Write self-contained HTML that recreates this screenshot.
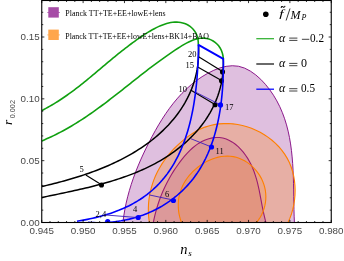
<!DOCTYPE html>
<html><head><meta charset="utf-8"><style>
html,body{margin:0;padding:0;background:#fff;}
body{width:344px;height:261px;overflow:hidden;position:relative;}
text{font-family:"Liberation Serif",serif;fill:#000;}
.tk{font-family:"Liberation Sans",sans-serif;font-size:9.8px;fill:#484848;}
.an{font-size:8.5px;}
.lg{font-size:7.2px;}
.lm{font-size:12px;}
.ax{font-size:14.5px;}
</style></head><body>
<svg width="344" height="261" viewBox="0 0 344 261" style="position:absolute;left:0;top:0;will-change:transform">
<defs><clipPath id="cp"><rect x="41.75" y="0.50" width="289.50" height="222.00"/></clipPath></defs>
<g clip-path="url(#cp)">
<path d="M122.90,222.60 L123.75,216.03 L124.84,209.55 L126.14,203.13 L127.66,196.78 L129.38,190.50 L131.29,184.28 L133.38,178.12 L135.63,172.01 L138.05,165.96 L140.62,159.95 L143.32,153.99 L146.15,148.07 L149.10,142.19 L152.16,136.35 L155.34,130.55 L158.64,124.83 L162.09,119.20 L165.70,113.70 L169.48,108.33 L173.45,103.13 L177.63,98.12 L182.02,93.31 L186.65,88.75 L191.53,84.43 L196.67,80.40 L202.08,76.67 L207.79,73.27 L213.76,70.29 L219.91,67.92 L226.14,66.34 L232.39,65.72 L238.55,66.26 L244.55,68.09 L250.31,71.06 L255.75,74.91 L260.80,79.39 L265.45,84.35 L269.68,89.66 L273.47,95.19 L276.84,100.88 L279.80,106.71 L282.38,112.66 L284.61,118.72 L286.52,124.89 L288.13,131.15 L289.47,137.49 L290.57,143.91 L291.45,150.39 L292.14,156.91 L292.66,163.48 L293.05,170.08 L293.33,176.69 L293.52,183.31 L293.66,189.93 L293.76,196.54 L293.86,203.12 L293.98,209.66 L294.15,216.16 L294.40,222.60Z" fill="#800080" fill-opacity="0.25" stroke="none"/>
<path d="M153.30,222.60 L154.07,218.88 L154.92,215.22 L155.85,211.59 L156.86,208.02 L157.94,204.49 L159.11,201.00 L160.36,197.56 L161.70,194.15 L163.12,190.79 L164.62,187.47 L166.21,184.18 L167.88,180.94 L169.65,177.73 L171.50,174.55 L173.44,171.41 L175.48,168.31 L177.60,165.24 L179.82,162.19 L182.13,159.18 L184.54,156.22 L187.06,153.34 L189.70,150.58 L192.49,147.98 L195.42,145.58 L198.52,143.42 L201.79,141.52 L205.22,139.94 L208.76,138.71 L212.35,137.86 L215.93,137.45 L219.45,137.51 L222.88,138.04 L226.20,139.02 L229.39,140.41 L232.46,142.17 L235.39,144.26 L238.18,146.65 L240.81,149.29 L243.27,152.16 L245.56,155.21 L247.67,158.41 L249.59,161.72 L251.31,165.10 L252.84,168.53 L254.20,172.02 L255.41,175.55 L256.49,179.11 L257.45,182.71 L258.31,186.33 L259.11,189.97 L259.84,193.63 L260.54,197.29 L261.22,200.95 L261.90,204.61 L262.60,208.25 L263.35,211.88 L264.15,215.48 L265.03,219.06 L266.00,222.60Z" fill="#800080" fill-opacity="0.155" stroke="none"/>
<path d="M149.40,222.60 L148.76,217.71 L148.41,212.86 L148.35,208.05 L148.57,203.28 L149.07,198.56 L149.84,193.91 L150.86,189.33 L152.15,184.82 L153.68,180.39 L155.45,176.05 L157.45,171.80 L159.68,167.66 L162.13,163.63 L164.80,159.71 L167.66,155.92 L170.73,152.26 L173.98,148.74 L177.41,145.36 L180.99,142.13 L184.69,139.06 L188.50,136.15 L192.41,133.45 L196.46,131.00 L200.65,128.87 L205.01,127.10 L209.51,125.69 L214.11,124.63 L218.80,123.93 L223.53,123.58 L228.28,123.56 L233.02,123.89 L237.73,124.53 L242.40,125.49 L247.00,126.75 L251.52,128.31 L255.92,130.16 L260.19,132.28 L264.31,134.68 L268.25,137.33 L272.00,140.23 L275.53,143.37 L278.83,146.74 L281.88,150.33 L284.64,154.14 L287.10,158.14 L289.25,162.35 L291.05,166.73 L292.52,171.27 L293.65,175.93 L294.45,180.69 L294.94,185.52 L295.11,190.37 L294.97,195.23 L294.52,200.05 L293.79,204.81 L292.76,209.48 L291.45,214.02 L289.86,218.40 L288.00,222.60Z" fill="#ff8000" fill-opacity="0.26" stroke="none"/>
<path d="M181.50,222.60 L180.43,219.53 L179.58,216.44 L178.93,213.34 L178.50,210.24 L178.27,207.15 L178.25,204.07 L178.43,201.02 L178.82,197.99 L179.41,195.00 L180.21,192.05 L181.20,189.15 L182.39,186.31 L183.78,183.54 L185.37,180.84 L187.14,178.23 L189.09,175.70 L191.20,173.28 L193.46,170.98 L195.86,168.80 L198.38,166.75 L201.00,164.85 L203.73,163.11 L206.53,161.54 L209.41,160.14 L212.34,158.93 L215.32,157.92 L218.32,157.13 L221.34,156.55 L224.37,156.20 L227.38,156.09 L230.38,156.24 L233.33,156.64 L236.24,157.31 L239.08,158.24 L241.85,159.40 L244.53,160.78 L247.11,162.38 L249.58,164.17 L251.92,166.15 L254.13,168.31 L256.18,170.62 L258.07,173.07 L259.79,175.66 L261.32,178.37 L262.65,181.18 L263.76,184.08 L264.65,187.07 L265.29,190.12 L265.70,193.21 L265.85,196.35 L265.76,199.49 L265.42,202.62 L264.84,205.72 L264.01,208.78 L262.94,211.76 L261.64,214.66 L260.10,217.44 L258.31,220.10 L256.30,222.60Z" fill="#ff8000" fill-opacity="0.17" stroke="none"/>
<path d="M122.90,222.60 L123.75,216.03 L124.84,209.55 L126.14,203.13 L127.66,196.78 L129.38,190.50 L131.29,184.28 L133.38,178.12 L135.63,172.01 L138.05,165.96 L140.62,159.95 L143.32,153.99 L146.15,148.07 L149.10,142.19 L152.16,136.35 L155.34,130.55 L158.64,124.83 L162.09,119.20 L165.70,113.70 L169.48,108.33 L173.45,103.13 L177.63,98.12 L182.02,93.31 L186.65,88.75 L191.53,84.43 L196.67,80.40 L202.08,76.67 L207.79,73.27 L213.76,70.29 L219.91,67.92 L226.14,66.34 L232.39,65.72 L238.55,66.26 L244.55,68.09 L250.31,71.06 L255.75,74.91 L260.80,79.39 L265.45,84.35 L269.68,89.66 L273.47,95.19 L276.84,100.88 L279.80,106.71 L282.38,112.66 L284.61,118.72 L286.52,124.89 L288.13,131.15 L289.47,137.49 L290.57,143.91 L291.45,150.39 L292.14,156.91 L292.66,163.48 L293.05,170.08 L293.33,176.69 L293.52,183.31 L293.66,189.93 L293.76,196.54 L293.86,203.12 L293.98,209.66 L294.15,216.16 L294.40,222.60" fill="none" stroke="#800080" stroke-width="0.9"/>
<path d="M153.30,222.60 L154.07,218.88 L154.92,215.22 L155.85,211.59 L156.86,208.02 L157.94,204.49 L159.11,201.00 L160.36,197.56 L161.70,194.15 L163.12,190.79 L164.62,187.47 L166.21,184.18 L167.88,180.94 L169.65,177.73 L171.50,174.55 L173.44,171.41 L175.48,168.31 L177.60,165.24 L179.82,162.19 L182.13,159.18 L184.54,156.22 L187.06,153.34 L189.70,150.58 L192.49,147.98 L195.42,145.58 L198.52,143.42 L201.79,141.52 L205.22,139.94 L208.76,138.71 L212.35,137.86 L215.93,137.45 L219.45,137.51 L222.88,138.04 L226.20,139.02 L229.39,140.41 L232.46,142.17 L235.39,144.26 L238.18,146.65 L240.81,149.29 L243.27,152.16 L245.56,155.21 L247.67,158.41 L249.59,161.72 L251.31,165.10 L252.84,168.53 L254.20,172.02 L255.41,175.55 L256.49,179.11 L257.45,182.71 L258.31,186.33 L259.11,189.97 L259.84,193.63 L260.54,197.29 L261.22,200.95 L261.90,204.61 L262.60,208.25 L263.35,211.88 L264.15,215.48 L265.03,219.06 L266.00,222.60" fill="none" stroke="#9a1c72" stroke-width="1.1"/>
<path d="M149.40,222.60 L148.76,217.71 L148.41,212.86 L148.35,208.05 L148.57,203.28 L149.07,198.56 L149.84,193.91 L150.86,189.33 L152.15,184.82 L153.68,180.39 L155.45,176.05 L157.45,171.80 L159.68,167.66 L162.13,163.63 L164.80,159.71 L167.66,155.92 L170.73,152.26 L173.98,148.74 L177.41,145.36 L180.99,142.13 L184.69,139.06 L188.50,136.15 L192.41,133.45 L196.46,131.00 L200.65,128.87 L205.01,127.10 L209.51,125.69 L214.11,124.63 L218.80,123.93 L223.53,123.58 L228.28,123.56 L233.02,123.89 L237.73,124.53 L242.40,125.49 L247.00,126.75 L251.52,128.31 L255.92,130.16 L260.19,132.28 L264.31,134.68 L268.25,137.33 L272.00,140.23 L275.53,143.37 L278.83,146.74 L281.88,150.33 L284.64,154.14 L287.10,158.14 L289.25,162.35 L291.05,166.73 L292.52,171.27 L293.65,175.93 L294.45,180.69 L294.94,185.52 L295.11,190.37 L294.97,195.23 L294.52,200.05 L293.79,204.81 L292.76,209.48 L291.45,214.02 L289.86,218.40 L288.00,222.60" fill="none" stroke="#ff8000" stroke-width="1.12"/>
<path d="M181.50,222.60 L180.43,219.53 L179.58,216.44 L178.93,213.34 L178.50,210.24 L178.27,207.15 L178.25,204.07 L178.43,201.02 L178.82,197.99 L179.41,195.00 L180.21,192.05 L181.20,189.15 L182.39,186.31 L183.78,183.54 L185.37,180.84 L187.14,178.23 L189.09,175.70 L191.20,173.28 L193.46,170.98 L195.86,168.80 L198.38,166.75 L201.00,164.85 L203.73,163.11 L206.53,161.54 L209.41,160.14 L212.34,158.93 L215.32,157.92 L218.32,157.13 L221.34,156.55 L224.37,156.20 L227.38,156.09 L230.38,156.24 L233.33,156.64 L236.24,157.31 L239.08,158.24 L241.85,159.40 L244.53,160.78 L247.11,162.38 L249.58,164.17 L251.92,166.15 L254.13,168.31 L256.18,170.62 L258.07,173.07 L259.79,175.66 L261.32,178.37 L262.65,181.18 L263.76,184.08 L264.65,187.07 L265.29,190.12 L265.70,193.21 L265.85,196.35 L265.76,199.49 L265.42,202.62 L264.84,205.72 L264.01,208.78 L262.94,211.76 L261.64,214.66 L260.10,217.44 L258.31,220.10 L256.30,222.60" fill="none" stroke="#ff8000" stroke-width="1.12"/>
<path d="M41.80,110.60 L43.87,109.52 L45.92,108.42 L47.94,107.31 L49.94,106.17 L51.92,105.02 L53.87,103.85 L55.80,102.67 L57.71,101.46 L59.60,100.25 L61.48,99.02 L63.33,97.77 L65.17,96.51 L66.99,95.24 L68.80,93.95 L70.59,92.66 L72.37,91.35 L74.14,90.03 L75.89,88.70 L77.63,87.36 L79.37,86.01 L81.09,84.65 L82.81,83.29 L84.51,81.91 L86.21,80.53 L87.91,79.15 L89.60,77.75 L91.29,76.36 L92.97,74.95 L94.65,73.55 L96.33,72.14 L98.01,70.72 L99.69,69.31 L101.37,67.89 L103.05,66.47 L104.73,65.05 L106.42,63.63 L108.11,62.21 L109.81,60.79 L111.52,59.37 L113.23,57.95 L114.95,56.54 L116.67,55.13 L118.41,53.72 L120.16,52.32 L121.92,50.92 L123.69,49.52 L125.48,48.14 L127.28,46.76 L129.09,45.38 L130.93,44.01 L132.77,42.65 L134.64,41.30 L136.52,39.96 L138.42,38.63 L140.34,37.31 L142.29,36.00 L144.25,34.70 L146.23,33.42 L148.24,32.17 L150.25,30.96 L152.28,29.79 L154.32,28.68 L156.36,27.62 L158.41,26.64 L160.47,25.72 L162.53,24.90 L164.58,24.16 L166.64,23.52 L168.69,22.99 L170.73,22.58 L172.77,22.29 L174.79,22.13 L176.80,22.11 L178.79,22.23 L180.77,22.51 L182.72,22.95 L184.65,23.57 L186.53,24.35 L188.34,25.30 L190.06,26.43 L191.67,27.74 L193.16,29.22 L194.50,30.89 L195.67,32.74 L196.65,34.77 L197.42,36.99 L197.97,39.40 L198.27,42.01 L198.30,44.80" fill="none" stroke="#10a010" stroke-width="1.6"/>
<path d="M41.80,140.90 L44.21,139.89 L46.61,138.85 L48.98,137.79 L51.32,136.71 L53.65,135.60 L55.95,134.47 L58.24,133.32 L60.50,132.14 L62.74,130.95 L64.97,129.73 L67.18,128.49 L69.37,127.24 L71.54,125.96 L73.70,124.67 L75.84,123.36 L77.97,122.04 L80.09,120.69 L82.19,119.34 L84.28,117.96 L86.35,116.57 L88.42,115.17 L90.47,113.76 L92.51,112.33 L94.55,110.89 L96.57,109.44 L98.59,107.97 L100.60,106.50 L102.60,105.01 L104.59,103.52 L106.58,102.02 L108.57,100.51 L110.55,98.99 L112.52,97.47 L114.50,95.94 L116.47,94.40 L118.44,92.86 L120.40,91.31 L122.37,89.76 L124.34,88.21 L126.30,86.65 L128.27,85.09 L130.24,83.53 L132.22,81.96 L134.19,80.40 L136.17,78.84 L138.16,77.28 L140.15,75.71 L142.14,74.15 L144.14,72.60 L146.15,71.04 L148.17,69.49 L150.19,67.94 L152.23,66.40 L154.27,64.87 L156.32,63.33 L158.39,61.81 L160.46,60.29 L162.55,58.78 L164.65,57.28 L166.76,55.79 L168.89,54.30 L171.04,52.83 L173.19,51.37 L175.37,49.91 L177.56,48.47 L179.76,47.05 L181.99,45.67 L184.22,44.34 L186.46,43.09 L188.71,41.94 L190.96,40.90 L193.22,39.99 L195.47,39.24 L197.73,38.66 L199.98,38.27 L202.22,38.10 L204.45,38.15 L206.67,38.46 L208.88,39.03 L211.04,39.87 L213.13,40.97 L215.11,42.34 L216.96,43.96 L218.63,45.83 L220.10,47.95 L221.34,50.31 L222.30,52.91 L222.97,55.74 L223.30,58.80" fill="none" stroke="#10a010" stroke-width="1.6"/>
<path d="M41.80,186.50 L44.22,185.94 L46.66,185.37 L49.10,184.79 L51.55,184.19 L54.02,183.58 L56.49,182.95 L58.96,182.31 L61.44,181.65 L63.93,180.97 L66.42,180.28 L68.92,179.57 L71.41,178.84 L73.91,178.09 L76.41,177.32 L78.91,176.54 L81.40,175.73 L83.90,174.91 L86.39,174.06 L88.88,173.19 L91.37,172.31 L93.84,171.40 L96.32,170.47 L98.78,169.51 L101.24,168.54 L103.68,167.54 L106.12,166.51 L108.55,165.47 L110.96,164.39 L113.37,163.30 L115.75,162.18 L118.13,161.03 L120.49,159.86 L122.83,158.66 L125.16,157.43 L127.47,156.18 L129.75,154.89 L132.02,153.58 L134.27,152.25 L136.50,150.88 L138.71,149.48 L140.89,148.06 L143.05,146.60 L145.18,145.12 L147.29,143.60 L149.37,142.05 L151.42,140.47 L153.45,138.87 L155.44,137.23 L157.40,135.56 L159.33,133.86 L161.23,132.13 L163.09,130.37 L164.92,128.58 L166.71,126.76 L168.47,124.91 L170.18,123.03 L171.86,121.12 L173.50,119.18 L175.09,117.22 L176.64,115.22 L178.15,113.19 L179.62,111.14 L181.03,109.05 L182.41,106.94 L183.73,104.79 L185.01,102.62 L186.23,100.42 L187.41,98.19 L188.53,95.94 L189.60,93.65 L190.62,91.33 L191.58,88.99 L192.48,86.62 L193.33,84.22 L194.12,81.79 L194.85,79.34 L195.52,76.85 L196.13,74.34 L196.68,71.80 L197.16,69.23 L197.58,66.64 L197.94,64.02 L198.22,61.37 L198.44,58.69 L198.60,55.98 L198.68,53.25 L198.69,50.49 L198.63,47.71 L198.50,44.89" fill="none" stroke="#000" stroke-width="1.5"/>
<path d="M41.80,197.50 L44.48,196.94 L47.17,196.38 L49.88,195.81 L52.59,195.25 L55.31,194.69 L58.04,194.12 L60.78,193.55 L63.52,192.97 L66.27,192.39 L69.03,191.80 L71.79,191.20 L74.55,190.60 L77.32,189.98 L80.09,189.35 L82.85,188.71 L85.62,188.06 L88.39,187.40 L91.16,186.72 L93.93,186.02 L96.69,185.31 L99.45,184.58 L102.20,183.84 L104.95,183.07 L107.69,182.28 L110.43,181.48 L113.16,180.65 L115.88,179.79 L118.59,178.91 L121.29,178.01 L123.98,177.08 L126.66,176.13 L129.32,175.14 L131.97,174.13 L134.61,173.09 L137.23,172.01 L139.84,170.91 L142.43,169.77 L145.01,168.60 L147.56,167.39 L150.10,166.15 L152.61,164.87 L155.11,163.55 L157.59,162.20 L160.04,160.80 L162.47,159.37 L164.88,157.89 L167.26,156.38 L169.61,154.82 L171.93,153.22 L174.22,151.59 L176.48,149.91 L178.71,148.20 L180.90,146.44 L183.05,144.65 L185.17,142.81 L187.25,140.94 L189.28,139.02 L191.27,137.07 L193.22,135.08 L195.12,133.05 L196.97,130.98 L198.77,128.88 L200.52,126.73 L202.22,124.55 L203.86,122.32 L205.45,120.06 L206.99,117.76 L208.46,115.43 L209.87,113.05 L211.22,110.64 L212.51,108.19 L213.73,105.71 L214.89,103.19 L215.97,100.64 L216.99,98.05 L217.94,95.43 L218.82,92.78 L219.63,90.10 L220.36,87.39 L221.02,84.64 L221.60,81.88 L222.10,79.08 L222.52,76.25 L222.86,73.41 L223.12,70.53 L223.29,67.63 L223.38,64.71 L223.38,61.76 L223.30,58.80" fill="none" stroke="#000" stroke-width="1.5"/>
<path d="M198.6,56.7 L222.5,71.6" stroke="#000" stroke-width="1.15" fill="none"/>
<path d="M197.7,66.9 L221.5,80.6" stroke="#000" stroke-width="1.15" fill="none"/>
<path d="M191,90.2 L215,104.4" stroke="#000" stroke-width="1.15" fill="none"/>
<path d="M85.8,175.1 L101.5,184.8" stroke="#000" stroke-width="1.15" fill="none"/>
<circle cx="222.5" cy="71.9" r="2.55" fill="#000"/>
<circle cx="221.5" cy="80.8" r="2.55" fill="#000"/>
<circle cx="215.1" cy="104.7" r="2.55" fill="#000"/>
<circle cx="101.5" cy="185" r="2.55" fill="#000"/>
<path d="M77.00,221.20 L79.59,220.79 L82.19,220.34 L84.80,219.87 L87.42,219.36 L90.04,218.82 L92.67,218.24 L95.31,217.63 L97.94,216.98 L100.57,216.30 L103.19,215.57 L105.81,214.81 L108.41,214.00 L111.01,213.15 L113.59,212.26 L116.15,211.32 L118.70,210.34 L121.22,209.30 L123.72,208.22 L126.19,207.09 L128.64,205.91 L131.05,204.68 L133.44,203.40 L135.78,202.07 L138.09,200.68 L140.36,199.24 L142.59,197.75 L144.78,196.21 L146.92,194.61 L149.02,192.96 L151.06,191.26 L153.06,189.51 L155.01,187.71 L156.91,185.86 L158.76,183.97 L160.56,182.03 L162.30,180.05 L163.99,178.03 L165.63,175.96 L167.22,173.86 L168.75,171.72 L170.24,169.54 L171.67,167.33 L173.06,165.08 L174.40,162.80 L175.69,160.49 L176.93,158.14 L178.13,155.77 L179.29,153.37 L180.40,150.94 L181.47,148.48 L182.49,146.00 L183.48,143.49 L184.42,140.96 L185.33,138.42 L186.19,135.85 L187.02,133.26 L187.81,130.65 L188.57,128.03 L189.29,125.39 L189.97,122.73 L190.62,120.07 L191.24,117.39 L191.83,114.70 L192.38,112.00 L192.90,109.29 L193.40,106.58 L193.86,103.86 L194.30,101.13 L194.71,98.40 L195.10,95.67 L195.46,92.94 L195.79,90.21 L196.10,87.47 L196.39,84.75 L196.65,82.02 L196.90,79.30 L197.12,76.58 L197.32,73.88 L197.51,71.18 L197.67,68.49 L197.82,65.81 L197.96,63.14 L198.07,60.49 L198.18,57.85 L198.27,55.22 L198.34,52.61 L198.41,50.02 L198.46,47.45 L198.50,44.90" fill="none" stroke="#0000ff" stroke-width="1.6"/>
<path d="M88.00,222.30 L90.74,222.49 L93.49,222.62 L96.25,222.70 L99.02,222.72 L101.79,222.68 L104.56,222.59 L107.33,222.43 L110.10,222.22 L112.86,221.95 L115.63,221.63 L118.38,221.24 L121.13,220.80 L123.86,220.30 L126.58,219.74 L129.29,219.13 L131.99,218.45 L134.66,217.72 L137.32,216.93 L139.95,216.08 L142.56,215.18 L145.15,214.21 L147.71,213.19 L150.24,212.11 L152.74,210.97 L155.21,209.77 L157.64,208.52 L160.04,207.20 L162.41,205.84 L164.73,204.41 L167.02,202.93 L169.27,201.40 L171.48,199.82 L173.65,198.18 L175.77,196.49 L177.85,194.75 L179.89,192.97 L181.88,191.13 L183.82,189.25 L185.72,187.32 L187.56,185.35 L189.36,183.33 L191.10,181.27 L192.79,179.17 L194.43,177.02 L196.01,174.83 L197.54,172.61 L199.02,170.34 L200.44,168.04 L201.81,165.70 L203.12,163.33 L204.39,160.92 L205.61,158.49 L206.78,156.02 L207.90,153.53 L208.97,151.00 L210.00,148.45 L210.98,145.88 L211.91,143.28 L212.81,140.67 L213.66,138.03 L214.46,135.37 L215.23,132.69 L215.96,130.00 L216.64,127.30 L217.29,124.58 L217.90,121.84 L218.47,119.10 L219.00,116.35 L219.50,113.59 L219.97,110.82 L220.40,108.05 L220.80,105.27 L221.16,102.49 L221.50,99.71 L221.80,96.93 L222.07,94.15 L222.32,91.38 L222.53,88.61 L222.72,85.84 L222.89,83.08 L223.02,80.33 L223.13,77.59 L223.22,74.86 L223.29,72.15 L223.33,69.44 L223.35,66.76 L223.35,64.09 L223.33,61.43 L223.30,58.80" fill="none" stroke="#0000ff" stroke-width="1.6"/>
<path d="M198.5,44.9 L223.3,58.8" stroke="#0000ff" stroke-width="1.9" stroke-linecap="round" fill="none"/>
<path d="M195.7,92.2 L220.5,104.9" stroke="#3a1cc0" stroke-width="0.9" fill="none"/>
<path d="M190.8,138.7 L211.5,147" stroke="#3a1cc0" stroke-width="0.9" fill="none"/>
<path d="M149.2,194.9 L173.4,200.1" stroke="#3a1cc0" stroke-width="0.9" fill="none"/>
<path d="M104.5,214.9 L138.2,217.6" stroke="#3a1cc0" stroke-width="0.9" fill="none"/>
<circle cx="220.5" cy="104.9" r="2.6" fill="#0000ff"/>
<circle cx="211.5" cy="147" r="2.6" fill="#0000ff"/>
<circle cx="173.4" cy="200.5" r="2.6" fill="#0000ff"/>
<circle cx="138.2" cy="217.5" r="2.6" fill="#0000ff"/>
<circle cx="107.7" cy="221.6" r="2.6" fill="#0000ff"/>
</g>
<rect x="48.3" y="7.2" width="10.5" height="10.4" fill="#a64ca6"/>
<rect x="48.3" y="29.6" width="10.5" height="10.4" fill="#ffa64c"/>
<path d="M47.3,12.5H59.9" stroke="#a64ca6" stroke-width="0.8"/>
<path d="M47.3,34.9H59.9" stroke="#ffa64c" stroke-width="0.8"/>
<circle cx="265.8" cy="14.2" r="2.8" fill="#000"/>
<path d="M256.3,38.7H274" stroke="#2fb02f" stroke-width="1.25"/>
<path d="M256.3,64.0H274" stroke="#111" stroke-width="1.25"/>
<path d="M256.3,89.2H274" stroke="#0000ff" stroke-width="1.25"/>
<rect x="41.75" y="0.5" width="289.5" height="222.0" fill="none" stroke="#000" stroke-width="1.1"/>
<path d="M41.75,222.5v-2.6M41.75,0.5v2.6M50.02,222.5v-1.5M50.02,0.5v1.5M58.29,222.5v-1.5M58.29,0.5v1.5M66.56,222.5v-1.5M66.56,0.5v1.5M74.84,222.5v-1.5M74.84,0.5v1.5M83.11,222.5v-2.6M83.11,0.5v2.6M91.38,222.5v-1.5M91.38,0.5v1.5M99.65,222.5v-1.5M99.65,0.5v1.5M107.92,222.5v-1.5M107.92,0.5v1.5M116.19,222.5v-1.5M116.19,0.5v1.5M124.46,222.5v-2.6M124.46,0.5v2.6M132.74,222.5v-1.5M132.74,0.5v1.5M141.01,222.5v-1.5M141.01,0.5v1.5M149.28,222.5v-1.5M149.28,0.5v1.5M157.55,222.5v-1.5M157.55,0.5v1.5M165.82,222.5v-2.6M165.82,0.5v2.6M174.09,222.5v-1.5M174.09,0.5v1.5M182.36,222.5v-1.5M182.36,0.5v1.5M190.64,222.5v-1.5M190.64,0.5v1.5M198.91,222.5v-1.5M198.91,0.5v1.5M207.18,222.5v-2.6M207.18,0.5v2.6M215.45,222.5v-1.5M215.45,0.5v1.5M223.72,222.5v-1.5M223.72,0.5v1.5M231.99,222.5v-1.5M231.99,0.5v1.5M240.26,222.5v-1.5M240.26,0.5v1.5M248.54,222.5v-2.6M248.54,0.5v2.6M256.81,222.5v-1.5M256.81,0.5v1.5M265.08,222.5v-1.5M265.08,0.5v1.5M273.35,222.5v-1.5M273.35,0.5v1.5M281.62,222.5v-1.5M281.62,0.5v1.5M289.89,222.5v-2.6M289.89,0.5v2.6M298.16,222.5v-1.5M298.16,0.5v1.5M306.44,222.5v-1.5M306.44,0.5v1.5M314.71,222.5v-1.5M314.71,0.5v1.5M322.98,222.5v-1.5M322.98,0.5v1.5M331.25,222.5v-2.6M331.25,0.5v2.6M41.75,222.50h2.6M331.25,222.50h-2.6M41.75,210.13h1.5M331.25,210.13h-1.5M41.75,197.77h1.5M331.25,197.77h-1.5M41.75,185.40h1.5M331.25,185.40h-1.5M41.75,173.03h1.5M331.25,173.03h-1.5M41.75,160.67h2.6M331.25,160.67h-2.6M41.75,148.30h1.5M331.25,148.30h-1.5M41.75,135.93h1.5M331.25,135.93h-1.5M41.75,123.57h1.5M331.25,123.57h-1.5M41.75,111.20h1.5M331.25,111.20h-1.5M41.75,98.83h2.6M331.25,98.83h-2.6M41.75,86.47h1.5M331.25,86.47h-1.5M41.75,74.10h1.5M331.25,74.10h-1.5M41.75,61.73h1.5M331.25,61.73h-1.5M41.75,49.37h1.5M331.25,49.37h-1.5M41.75,37.00h2.6M331.25,37.00h-2.6M41.75,24.63h1.5M331.25,24.63h-1.5M41.75,12.27h1.5M331.25,12.27h-1.5" stroke="#000" stroke-width="0.8" fill="none"/>
<text x="41.75" y="234.1" text-anchor="middle" class="tk">0.945</text>
<text x="83.11" y="234.1" text-anchor="middle" class="tk">0.950</text>
<text x="124.46" y="234.1" text-anchor="middle" class="tk">0.955</text>
<text x="165.82" y="234.1" text-anchor="middle" class="tk">0.960</text>
<text x="207.18" y="234.1" text-anchor="middle" class="tk">0.965</text>
<text x="248.54" y="234.1" text-anchor="middle" class="tk">0.970</text>
<text x="289.89" y="234.1" text-anchor="middle" class="tk">0.975</text>
<text x="331.25" y="234.1" text-anchor="middle" class="tk">0.980</text>
<text x="39.6" y="225.90" text-anchor="end" class="tk">0.00</text>
<text x="39.6" y="164.07" text-anchor="end" class="tk">0.05</text>
<text x="39.6" y="102.23" text-anchor="end" class="tk">0.10</text>
<text x="39.6" y="40.40" text-anchor="end" class="tk">0.15</text>
<text x="188.1" y="57.2" class="an">20</text>
<text x="185.5" y="67.9" class="an">15</text>
<text x="178.4" y="92.3" class="an">10</text>
<text x="224.9" y="110.2" class="an">17</text>
<text x="215.5" y="153.5" class="an">11</text>
<text x="165.0" y="197.0" class="an">6</text>
<text x="133.1" y="211.8" class="an">4</text>
<text x="95.6" y="217.0" class="an">2,4</text>
<text x="79.4" y="172.3" class="an">5</text>
<text x="65.3" y="16.0" class="lg" textLength="100.2" lengthAdjust="spacingAndGlyphs">Planck TT+TE+EE+lowE+lens</text>
<text x="65.3" y="39.1" class="lg" textLength="143.6" lengthAdjust="spacingAndGlyphs">Planck TT+TE+EE+lowE+lens+BK14+BAO</text>
<text transform="translate(279.3,17.4) scale(1.3,0.92)" class="lm" font-style="italic">f</text>
<path d="M281.1,7.9 Q281.7,5.7 283.0,6.8 T285.1,5.9" stroke="#000" stroke-width="1.05" fill="none"/>
<path d="M286.1,20.5 L290.0,8.5" stroke="#111" stroke-width="0.85" fill="none"/>
<text x="290.6" y="18.6" class="lm" font-style="italic">M</text>
<text x="301.4" y="19.6" class="lm" font-style="italic" style="font-size:8px">P</text>
<text x="279.0" y="41.5" class="lm" font-style="italic">α</text>
<path d="M289.2,38.1h8.2M289.2,40.4h8.2" stroke="#111" stroke-width="0.8" fill="none"/>
<path d="M301.9,39.3h7.4" stroke="#111" stroke-width="0.8" fill="none"/>
<text x="310.0" y="41.5" class="lm" textLength="14.0" lengthAdjust="spacingAndGlyphs">0.2</text>
<text x="279.0" y="66.8" class="lm" font-style="italic">α</text>
<path d="M289.2,63.4h8.2M289.2,65.7h8.2" stroke="#111" stroke-width="0.8" fill="none"/>
<text x="301.0" y="66.8" class="lm">0</text>
<text x="279.0" y="92.1" class="lm" font-style="italic">α</text>
<path d="M289.2,88.7h8.2M289.2,91.0h8.2" stroke="#111" stroke-width="0.8" fill="none"/>
<text x="301.0" y="92.1" class="lm" textLength="14.0" lengthAdjust="spacingAndGlyphs">0.5</text>
<text x="180.2" y="254.2" class="ax" font-style="italic">n</text>
<text x="188.2" y="255.9" class="ax" font-style="italic" style="font-size:9px">s</text>
<text transform="translate(12.1,124.9) rotate(-90)" class="ax" font-style="italic" style="font-size:13.5px">r</text>
<text transform="translate(15.4,118.3) rotate(-90)" class="tk" style="font-size:7.3px">0.002</text>
</svg>
</body></html>
